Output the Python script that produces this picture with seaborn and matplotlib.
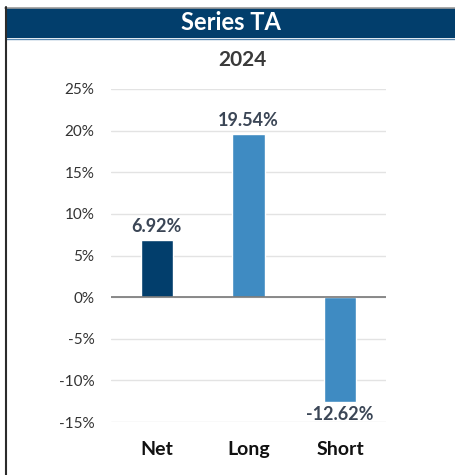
import matplotlib.pyplot as plt
import seaborn as sns
import pandas as pd
from matplotlib.patches import Rectangle
from matplotlib.lines import Line2D

categories = ['Net', 'Long', 'Short']
values = [6.92, 19.54, -12.62]
colors = ['#023e6c', '#3f8bc2', '#3f8bc2']
yticks = [-15, -10, -5, 0, 5, 10, 15, 20, 25]

df = pd.DataFrame({'cat': categories, 'val': values})

sns.set_style('white')
plt.rcParams['font.family'] = ['Lato', 'DejaVu Sans']

fig = plt.figure(figsize=(4.55, 4.75), dpi=100)

# frame and title bar
fig.add_artist(Rectangle((6/455, 1 - 38/475), 449/455, 30/475, transform=fig.transFigure,
                         facecolor='#023e6c', edgecolor='none', zorder=-1))
fig.add_artist(Line2D([6/455, 1], [1 - 38.5/475] * 2, transform=fig.transFigure,
                      color='#5d8bb3', lw=1, zorder=-1))
fig.add_artist(Line2D([5/455, 1], [1 - 7.5/475] * 2, transform=fig.transFigure,
                      color='#9a9a9a', lw=1.2, zorder=-1))
fig.add_artist(Line2D([6/455, 6/455], [0, 1 - 7/475], transform=fig.transFigure,
                      color='#2b2b2b', lw=1.5, zorder=-1))
fig.text(231/455, 1 - 23/475, 'Series TA', ha='center', va='center', color='white',
         fontsize=17, fontweight='bold')
fig.text(242/455, 1 - 60/475, '2024', ha='center', va='center', color='#3a3a3a',
         fontsize=15, fontweight='bold')

ax = fig.add_axes([111/455, 1 - 422/475, 275/455, 333/475])
sns.barplot(data=df, x='cat', y='val', hue='cat', palette=colors, width=0.35,
            saturation=1, legend=False, ax=ax, zorder=3)

ax.set_ylim(-15, 25)
ax.set_xlim(-0.5, 2.5)
ax.set_yticks(yticks)
ax.set_yticklabels([f'{t}%' for t in yticks])
ax.yaxis.grid(True, color='#e3e3e3', lw=1, zorder=0)
ax.axhline(0, color='#777777', lw=1.2, zorder=4)
for s in ax.spines.values():
    s.set_visible(False)
ax.tick_params(axis='y', length=0, labelsize=11, labelcolor='#333333', pad=12)
ax.tick_params(axis='x', length=0, labelsize=14, pad=14)
for lbl in ax.get_xticklabels():
    lbl.set_fontweight('bold')
    lbl.set_color('#111111')
ax.set_xlabel('')
ax.set_ylabel('')

for i, v in enumerate(values):
    if v >= 0:
        ax.text(i, v + 0.6, f'{v:.2f}%', ha='center', va='bottom', fontsize=13,
                fontweight='bold', color='#3b4656')
    else:
        ax.text(i, v - 0.4, f'{v:.2f}%', ha='center', va='top', fontsize=13,
                fontweight='bold', color='#3b4656')

fig.savefig('out.png', dpi=100)
